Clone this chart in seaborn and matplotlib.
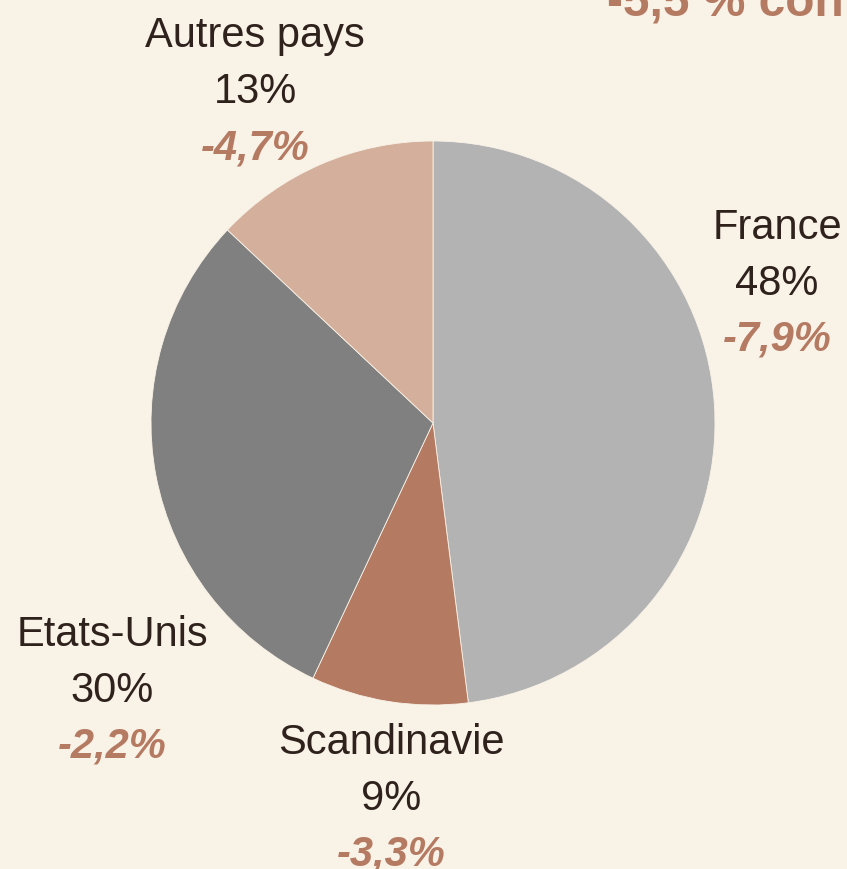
import matplotlib
matplotlib.use("Agg")
import matplotlib.pyplot as plt
import seaborn as sns

sns.set_theme(style="white")
plt.rcParams['font.family'] = ['Liberation Sans', 'DejaVu Sans']

# parts du chiffre d'affaires par zone, sens horaire depuis le haut
zones = ["France", "Scandinavie", "Etats-Unis", "Autres pays"]
parts = [48, 9, 30, 13]
evolutions = ["-7,9%", "-3,3%", "-2,2%", "-4,7%"]
couleurs = ["#b3b3b3", "#b57a62", "#808080", "#d4af9b"]

fond = "#f9f2e7"
sombre = "#2f221d"
brun = "#b57a62"

W, H = 847, 870
fig = plt.figure(figsize=(W / 100, H / 100), dpi=100, facecolor=fond)

# camembert : centre (433, 424) px, rayon 282 px
cx, cy, r = 433, 424, 282
ax = fig.add_axes([(cx - r) / W, (H - cy - r) / H, 2 * r / W, 2 * r / H])
ax.set_facecolor(fond)
ax.pie(parts, colors=couleurs, startangle=90, counterclock=False,
       wedgeprops=dict(linewidth=0.6, edgecolor=fond))
ax.set_xlim(-1, 1)
ax.set_ylim(-1, 1)
ax.set_aspect("equal")
ax.axis("off")

# positions des étiquettes (centre, ligne du nom) en pixels
pos_etiq = {
    "France": (777, 228),
    "Scandinavie": (391, 743),
    "Etats-Unis": (112, 635),
    "Autres pays": (255, 36),
}
pas = 56
for z, p, ev in zip(zones, parts, evolutions):
    x, y = pos_etiq[z]
    fig.text(x / W, 1 - y / H, z, ha="center", va="center",
             fontsize=30, color=sombre)
    fig.text(x / W, 1 - (y + pas) / H, f"{p}%", ha="center", va="center",
             fontsize=30, color=sombre)
    fig.text(x / W, 1 - (y + 2 * pas) / H, ev, ha="center", va="center",
             fontsize=30, color=brun, fontweight="bold", fontstyle="italic")

# titre coupé en haut à droite
fig.text(607 / W, 1 - 17 / H, "-5,5 % contre", ha="left", va="baseline",
         fontsize=34.5, color=brun, fontweight="bold")

fig.savefig("out.png", dpi=100, facecolor=fond)
